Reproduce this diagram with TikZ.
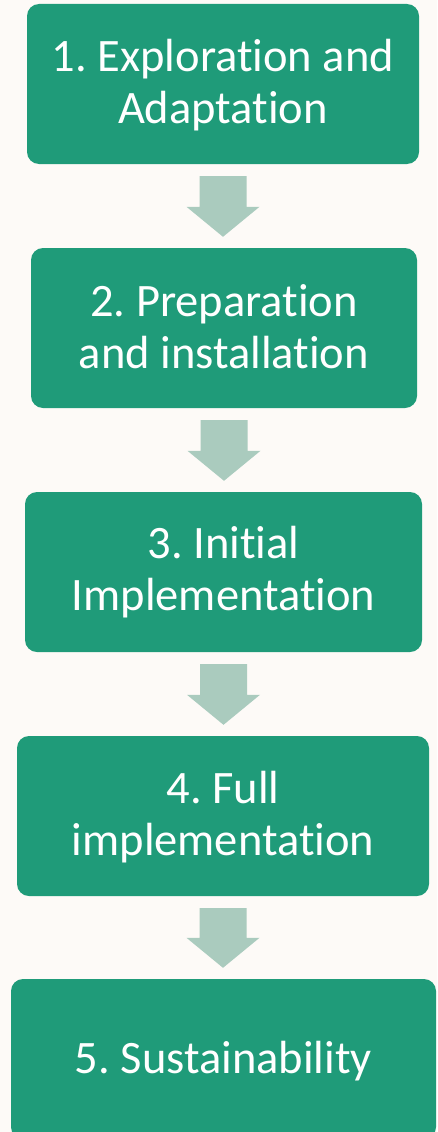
\documentclass[tikz,border=0pt]{standalone}
\usepackage{fontspec}
\setmainfont[Ligatures={NoCommon,NoRare,NoContextual},RawFeature={-liga;-dlig;-calt}]{Carlito}
\frenchspacing
\usetikzlibrary{calc}
\definecolor{bgc}{RGB}{253,250,247}
\definecolor{boxc}{RGB}{31,155,121}
\definecolor{arrc}{RGB}{170,203,190}
\tikzset{
  box/.style={rectangle, rounded corners=12pt, fill=boxc, draw=none, inner sep=0pt, minimum height=160pt},
  lbl/.style={text=white, inner sep=0pt, anchor=base, font=\fontsize{46.5}{52}\selectfont\frenchspacing},
}
\newcommand\flowarrow[2]{%
  \fill[arrc] let \p1=($(#1.south)+(0,12)$), \p2=($(#2.north)+(0,-11)$) in
    (\x1-23.5pt,\y1) -- (\x1+23.5pt,\y1) -- (\x1+23.5pt,\y2+30pt) -- (\x1+36.5pt,\y2+30pt)
    -- (\x1,\y2) -- (\x1-36.5pt,\y2+30pt) -- (\x1-23.5pt,\y2+30pt) -- cycle;}
\begin{document}
\begin{tikzpicture}[x=1pt,y=-1pt]
\fill[bgc] (0,0) rectangle (437,1132);
\useasboundingbox (0,0) rectangle (437,1132);

\node[box, minimum width=392pt] (b1) at (223,84) {};
\node[box, minimum width=386pt] (b2) at (224,328) {};
\node[box, minimum width=397pt] (b3) at (223.5,572) {};
\node[box, minimum width=412pt] (b4) at (223,816) {};
\node[box, minimum width=425pt] (b5) at (223.5,1059) {};

\node[lbl] (t1) at (223,71) {\begin{tabular}[t]{@{}c@{}}1. Exploration and\\Adaptation\end{tabular}};
\node[lbl] (t2) at (224,316) {\begin{tabular}[t]{@{}c@{}}2. Preparation\\and installation\end{tabular}};
\node[lbl] (t3) at (223.5,558) {\begin{tabular}[t]{@{}c@{}}3. Initial\\Implementation\end{tabular}};
\node[lbl] (t4) at (223,803) {\begin{tabular}[t]{@{}c@{}}4. Full\\implementation\end{tabular}};
\node[lbl] (t5) at (223.5,1073) {5. Sustainability};

\flowarrow{b1}{b2}
\flowarrow{b2}{b3}
\flowarrow{b3}{b4}
\flowarrow{b4}{b5}
\end{tikzpicture}
\end{document}
